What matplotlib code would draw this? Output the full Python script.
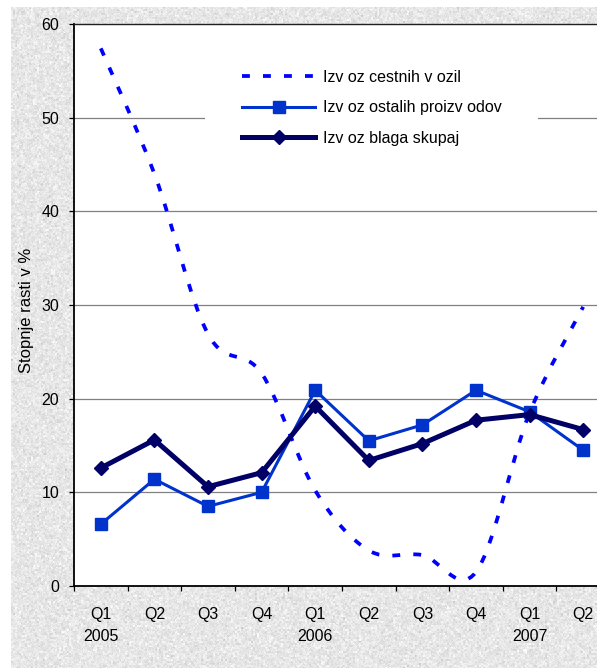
import numpy as np
import matplotlib
matplotlib.use("Agg")
import matplotlib.pyplot as plt
from matplotlib.path import Path
from matplotlib.patches import PathPatch, Rectangle
from matplotlib.lines import Line2D

plt.rcParams['font.family'] = ['Liberation Sans', 'DejaVu Sans']

###############################################################################
# Data: quarterly growth rates (%)
quarters = ['Q1', 'Q2', 'Q3', 'Q4', 'Q1', 'Q2', 'Q3', 'Q4', 'Q1', 'Q2']
years = ['2005', '', '', '', '2006', '', '', '', '2007', '']
cestna_vozila = [57.4, 44.0, 26.9, 22.7, 10.2, 3.8, 3.3, 1.5, 18.5, 29.8]
ostali_proizvodi = [6.6, 11.4, 8.5, 10.0, 20.9, 15.5, 17.2, 20.9, 18.6, 14.5]
blago_skupaj = [12.6, 15.6, 10.6, 12.1, 19.2, 13.4, 15.2, 17.7, 18.3, 16.7]

labels = ['Izv oz cestnih v ozil', 'Izv oz ostalih proizv odov', 'Izv oz blaga skupaj']
ylabel = 'Stopnje rasti v %'

c_dash = '#0000ff'
c_other = '#0033cc'
c_total = '#000066'
dash_style = (0, (2.1, 3.5))

###############################################################################
# Figure with a granite-like backdrop
fig = plt.figure(figsize=(5.97, 6.68), dpi=100)
fig.patch.set_facecolor('white')

bg = fig.add_axes([11 / 597, 0, 586 / 597, 661 / 668], zorder=-5)
rng = np.random.default_rng(11)
coarse = rng.normal(0, 1, (331, 293))
coarse = np.kron(coarse, np.ones((2, 2)))[:661, :586]
fine = rng.normal(0, 1, (661, 586))
tex = 230 + 7 * coarse + 5 * fine
tex = np.clip(tex, 185, 252) / 255.0
bg.imshow(tex, cmap='gray', vmin=0, vmax=1, aspect='auto', interpolation='nearest')
bg.set_axis_off()

# Plot area runs past the right edge of the figure
ax = fig.add_axes([74 / 597, 82 / 668, 536 / 597, 562 / 668])
ax.set_facecolor('white')
x = np.arange(len(quarters))

# Smoothed dashed series as a chain of cubic Bezier segments
pts = np.column_stack([x, cestna_vozila]).astype(float)
ext = np.vstack([pts[0], pts, pts[-1]])
verts = [tuple(pts[0])]
codes = [Path.MOVETO]
for i in range(len(pts) - 1):
    p_prev, p0, p1, p_next = ext[i], ext[i + 1], ext[i + 2], ext[i + 3]
    c1 = p0 + (p1 - p_prev) / 6.0
    c2 = p1 - (p_next - p0) / 6.0
    verts += [tuple(c1), tuple(c2), tuple(p1)]
    codes += [Path.CURVE4] * 3
curve = PathPatch(Path(verts, codes), fill=False, edgecolor=c_dash, lw=2.7,
                  linestyle=dash_style, capstyle='butt', zorder=3)
ax.add_patch(curve)

ax.plot(x, ostali_proizvodi, color=c_other, lw=2.2, marker='s', ms=8,
        mfc=c_other, mec=c_other, zorder=4)
ax.plot(x, blago_skupaj, color=c_total, lw=3.6, marker='D', ms=7.5,
        mfc=c_total, mec=c_total, zorder=5)

# Axes and grid
ax.set_xlim(-0.5, len(quarters) - 0.5)
ax.set_ylim(0, 60)
ax.set_yticks(np.arange(0, 61, 10))
for v in range(10, 60, 10):
    ax.axhline(v, color='#808080', lw=0.9, zorder=1)

ax.spines['right'].set_visible(False)
ax.spines['left'].set_linewidth(1.3)
ax.spines['bottom'].set_linewidth(1.3)
ax.spines['top'].set_linewidth(1.0)
ax.spines['top'].set_color('#202020')

ax.tick_params(axis='y', direction='out', length=3.6, width=0.9, pad=7,
               labelsize=11.5)
ax.set_xticks(np.arange(-0.5, len(quarters), 1.0))
ax.set_xticklabels([])
ax.tick_params(axis='x', which='major', direction='out', length=3.6, width=0.9)
ax.set_xticks(x, minor=True)
xlabels = [q + ('\n' + y if y else '') for q, y in zip(quarters, years)]
ax.set_xticklabels(xlabels, minor=True, linespacing=1.6)
ax.tick_params(axis='x', which='minor', length=0, pad=15, labelsize=11.5)

ax.set_ylabel(ylabel, fontsize=12)
ax.yaxis.set_label_coords(-0.074, 0.49)

# Legend on a white panel that hides the grid behind it
ax.add_patch(Rectangle((0.2444, 0.749), 0.6213, 0.196, transform=ax.transAxes,
                       facecolor='white', edgecolor='none', zorder=2))
handles = [
    Line2D([], [], color=c_dash, lw=2.7, linestyle=dash_style),
    Line2D([], [], color=c_other, lw=2.2, marker='s', ms=8),
    Line2D([], [], color=c_total, lw=3.6, marker='D', ms=7.5),
]
leg = ax.legend(handles, labels, loc='upper left', bbox_to_anchor=(0.3134, 0.919),
                frameon=False, fontsize=11.5, handlelength=4.6, handletextpad=0.45,
                labelspacing=0.98, borderpad=0, borderaxespad=0)
leg.set_zorder(6)

fig.savefig('out.png', dpi=100)
